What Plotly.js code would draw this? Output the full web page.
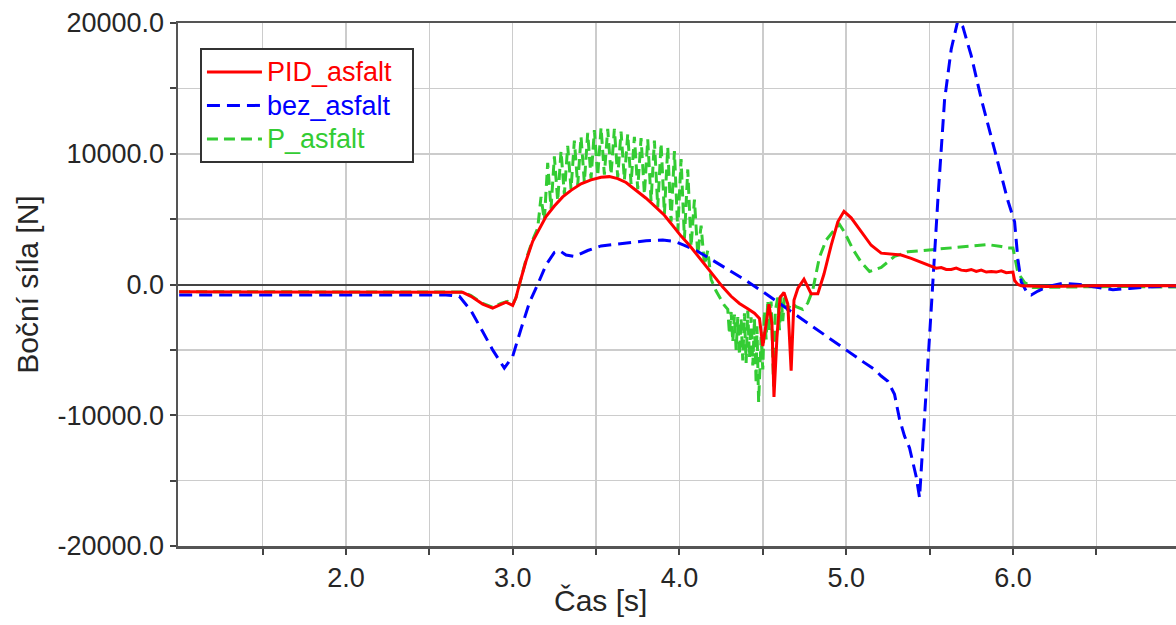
<!DOCTYPE html>
<html>
<head>
<meta charset="utf-8">
<script src="https://cdn.plot.ly/plotly-3.0.1.min.js"></script>
<style>
  html, body { margin: 0; padding: 0; background: #ffffff; }
  #chart { width: 1176px; height: 625px; }
</style>
</head>
<body>
<div id="chart"></div>
<script>
// Lateral force over time for three controller variants
const pidTime = [1.0, 2.0, 2.6, 2.7, 2.75, 2.82, 2.88, 2.93, 2.96, 3.0, 3.02, 3.04, 3.08, 3.12, 3.16, 3.2, 3.25, 3.3, 3.35, 3.41,
  3.47, 3.53, 3.58, 3.63, 3.68, 3.73, 3.8, 3.86, 3.91, 3.96, 4.01, 4.06, 4.11, 4.16, 4.21, 4.26, 4.31, 4.36, 4.41, 4.45,
  4.48, 4.5, 4.52, 4.537, 4.555, 4.567, 4.585, 4.603, 4.627, 4.65, 4.67, 4.687, 4.71, 4.747, 4.79, 4.83, 4.867, 4.91, 4.95, 4.987,
  5.03, 5.09, 5.15, 5.21, 5.27, 5.33, 5.39, 5.45, 5.51, 5.54, 5.57, 5.6, 5.63, 5.66, 5.69, 5.72, 5.75, 5.78, 5.81, 5.84,
  5.87, 5.9, 5.93, 5.96, 6.0, 6.01, 6.03, 6.05, 6.2, 6.5, 7.0];
const pidForce = [-560, -560, -560, -600, -900, -1500, -1800, -1500, -1350, -1600, -1000, 0, 1800, 3300, 4300, 5200, 6000, 6700, 7200, 7700,
  8000, 8200, 8250, 8100, 7800, 7300, 6600, 5900, 5300, 4500, 3700, 3000, 2200, 1400, 600, -200, -900, -1450, -1850, -2200,
  -2600, -4700, -3000, -1500, -3000, -8600, -4000, -1000, -600, -1500, -6600, -1200, -300, 400, -700, -700, 800, 3000, 4800, 5600,
  5100, 4000, 3000, 2400, 2300, 2250, 2000, 1700, 1350, 1250, 1300, 1150, 1150, 1250, 1100, 1050, 1150, 1000, 1100, 950,
  1000, 950, 1050, 900, 950, 300, 0, -100, -150, -100, -100];

const bezTime = [1.0, 2.0, 2.6, 2.68, 2.75, 2.82, 2.88, 2.95, 3.0, 3.05, 3.1, 3.15, 3.2, 3.25, 3.28, 3.32, 3.37, 3.45, 3.53, 3.6,
  3.7, 3.8, 3.9, 3.97, 4.03, 4.1, 4.2, 4.3, 4.4, 4.5, 4.6, 4.7, 4.8, 4.9, 5.0, 5.1, 5.17, 5.21, 5.25, 5.29,
  5.32, 5.35, 5.38, 5.42, 5.44, 5.46, 5.48, 5.51, 5.55, 5.59, 5.63, 5.67, 5.7, 5.75, 5.81, 5.89, 5.97, 6.01, 6.03, 6.05,
  6.08, 6.11, 6.15, 6.21, 6.3, 6.4, 6.5, 6.6, 6.7, 6.8, 7.0];
const bezForce = [-800, -800, -800, -900, -2000, -3600, -5000, -6400, -5500, -3400, -1400, 0, 1500, 2450, 2600, 2250, 2150, 2600, 2950, 3050,
  3200, 3350, 3400, 3300, 3000, 2600, 1850, 1100, 300, -550, -1450, -2350, -3200, -4100, -5000, -5900, -6500, -7000, -7400, -8400,
  -10300, -11600, -12500, -14700, -16300, -12000, -7500, -1900, 6500, 14100, 18000, 20200, 19700, 17500, 14200, 10300, 6400, 4800, 1900, 200,
  -500, -800, -500, -150, 100, 0, -200, -400, -300, -200, -100];

const pTime = [1.0, 2.0, 2.6, 2.7, 2.75, 2.82, 2.88, 2.93, 2.97, 3.0, 3.02, 3.04, 3.08, 3.12, 3.15,
  3.17, 3.19, 3.21, 3.23, 3.25, 3.27, 3.29, 3.31, 3.33, 3.35, 3.37, 3.39, 3.41, 3.43, 3.45, 3.47, 3.49, 3.51, 3.53, 3.55,
  3.57, 3.59, 3.61, 3.63, 3.65, 3.67, 3.69, 3.71, 3.73, 3.75, 3.77, 3.79, 3.81, 3.83, 3.85, 3.87, 3.89, 3.91, 3.93, 3.95,
  3.97, 3.99, 4.01, 4.03, 4.05, 4.07, 4.09, 4.11, 4.13, 4.15, 4.17, 4.19, 4.22, 4.25, 4.27, 4.29,
  4.30, 4.31, 4.32, 4.33, 4.34, 4.35, 4.36, 4.37, 4.38, 4.39, 4.40, 4.41, 4.42, 4.43, 4.44, 4.45, 4.46, 4.465, 4.475, 4.49,
  4.50, 4.51, 4.52, 4.53, 4.54, 4.55, 4.56, 4.565, 4.575, 4.59, 4.60, 4.61, 4.62, 4.63, 4.65, 4.67, 4.70, 4.74, 4.77, 4.80,
  4.84, 4.88, 4.93, 4.96, 4.99, 5.04, 5.09, 5.14, 5.21, 5.29, 5.37, 5.45, 5.53, 5.61, 5.69, 5.77, 5.85, 5.93, 5.97, 6.0,
  6.03, 6.07, 6.12, 6.3, 6.6, 7.0];
const pForce = [-550, -550, -560, -580, -850, -1450, -1750, -1450, -1300, -1550, -1000, 0, 1900, 3400, 4300,
  6700, 4900, 9300, 5800, 9800, 6400, 10200, 6900, 10600, 7300, 11000, 7600, 11300, 7800, 11600, 8100, 11800, 8300, 12000, 8400,
  11900, 8400, 11900, 8200, 11700, 8000, 11500, 7700, 11300, 7300, 11200, 6900, 11100, 6400, 11000, 5900, 10800, 5400, 10500, 4800,
  10200, 4100, 9600, 3500, 8800, 2900, 6500, 2300, 4500, 1500, 2600, 400, -500, -1150, -1600, -1900,
  -3800, -2100, -4400, -2300, -5000, -2500, -5400, -2600, -5800, -2200, -6000, -2000, -5600, -2500, -6200, -2600, -7600, -3200, -9000, -4000,
  -6500, -2000, -4200, -1200, -3500, -1300, -5500, -7800, -2000, -1000, -3500, -800, -2800, -1000, -2000, -1400, -1700, -1900, -1400, -400,
  2100, 3400, 4200, 4600, 4000, 2700, 1700, 1000, 1300, 2150, 2500, 2600, 2700, 2800, 2900, 3000, 3050, 2900, 2800, 2800,
  900, 150, -230, -200, -150, -200];

const seriesNames = ['PID_asfalt', 'bez_asfalt', 'P_asfalt'];
const seriesColors = ['#ff0000', '#0000ff', '#33cc33'];

const xTickVals = [1.5, 2.0, 2.5, 3.0, 3.5, 4.0, 4.5, 5.0, 5.5, 6.0, 6.5];
const xTickText = ['', '2.0', '', '3.0', '', '4.0', '', '5.0', '', '6.0', ''];
const yTickVals = [-20000, -15000, -10000, -5000, 0, 5000, 10000, 15000, 20000];
const yTickText = ['-20000.0', '', '-10000.0', '', '0.0', '', '10000.0', '', '20000.0'];

const fontFamily = '"Liberation Sans", Arial, sans-serif';
const textColor = '#262626';

// Legend entries: coloured text, drawn a little larger than the row spacing font
function legendLabel(i) {
  return '<span style="color:' + seriesColors[i] + ';font-size:27px">' + seriesNames[i] + '&nbsp;&nbsp;</span>';
}

const traces = [
  {
    x: pTime, y: pForce, type: 'scatter', mode: 'lines',
    name: legendLabel(2), legendrank: 3,
    line: { color: seriesColors[2], width: 3, dash: '11px,6px' }
  },
  {
    x: bezTime, y: bezForce, type: 'scatter', mode: 'lines',
    name: legendLabel(1), legendrank: 2,
    line: { color: seriesColors[1], width: 3, dash: '13px,7px' }
  },
  {
    x: pidTime, y: pidForce, type: 'scatter', mode: 'lines',
    name: legendLabel(0), legendrank: 1,
    line: { color: seriesColors[0], width: 3 }
  }
];

const layout = {
  width: 1176,
  height: 625,
  margin: { l: 178, r: 0, t: 23, b: 79 },
  paper_bgcolor: '#ffffff',
  plot_bgcolor: '#ffffff',
  font: { family: fontFamily, size: 27, color: textColor },
  showlegend: true,
  legend: {
    x: 0.022, y: 0.952, xanchor: 'left', yanchor: 'top',
    bgcolor: '#ffffff', bordercolor: '#333333', borderwidth: 2,
    font: { family: fontFamily, size: 23.5, color: textColor },
    itemwidth: 55,
    tracegroupgap: 0
  },
  xaxis: {
    range: [0.993, 6.978],
    tickmode: 'array', tickvals: xTickVals, ticktext: xTickText,
    ticks: 'outside', ticklen: 6, tickwidth: 2, tickcolor: '#444444',
    showgrid: true, gridcolor: '#cccccc', gridwidth: 1.5,
    showline: true, mirror: true, linecolor: '#555555', linewidth: 2.5,
    zeroline: false,
    tickfont: { family: fontFamily, size: 27, color: textColor }
  },
  yaxis: {
    range: [-20000, 20000],
    tickmode: 'array', tickvals: yTickVals, ticktext: yTickText,
    ticks: 'outside', ticklen: 6, tickwidth: 2, tickcolor: '#444444',
    showgrid: true, gridcolor: '#cccccc', gridwidth: 1.5,
    showline: true, linecolor: '#555555', linewidth: 2.5,
    zeroline: true, zerolinecolor: '#444444', zerolinewidth: 2,
    tickfont: { family: fontFamily, size: 27, color: textColor },
    title: { text: 'Boční síla [N]', font: { family: fontFamily, size: 30, color: textColor }, standoff: 10 }
  },
  annotations: [
    {
      text: 'Čas [s]', xref: 'paper', yref: 'paper',
      x: 0.423, y: -0.105, xanchor: 'center', yanchor: 'middle',
      showarrow: false,
      font: { family: fontFamily, size: 30, color: textColor }
    }
  ]
};

Plotly.newPlot('chart', traces, layout, { staticPlot: true, displayModeBar: false });
</script>
</body>
</html>
